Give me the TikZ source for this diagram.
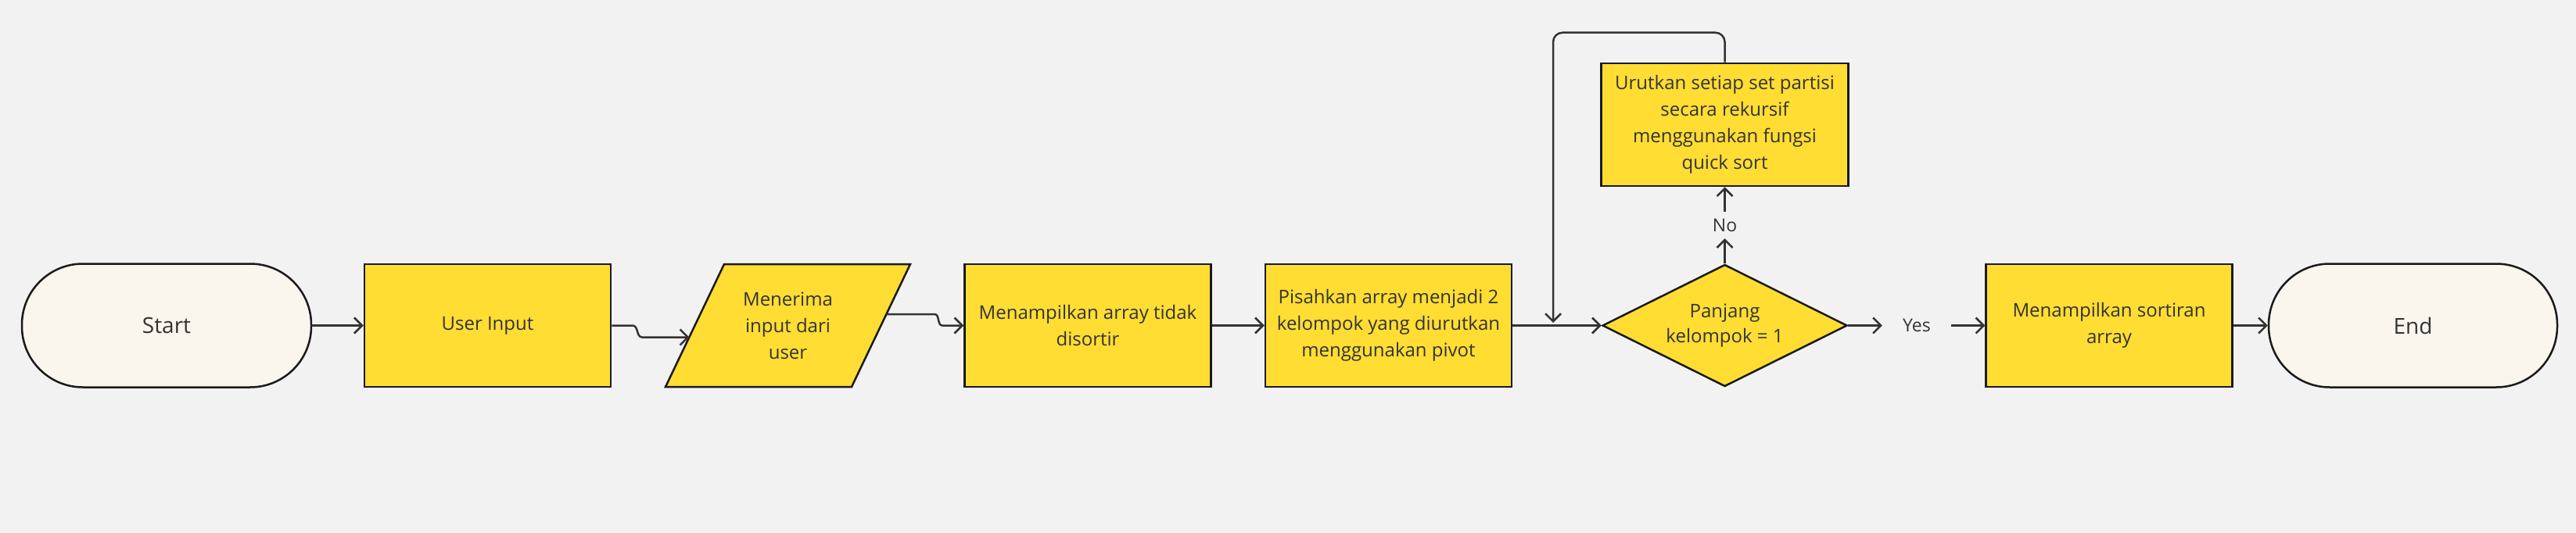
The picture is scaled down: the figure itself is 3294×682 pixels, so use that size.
\documentclass[tikz,border=0pt]{standalone}
\usepackage{fontspec}
\setmainfont{Open Sans}
\usetikzlibrary{arrows.meta,shapes.geometric,calc}
\definecolor{bg}{HTML}{F2F2F2}
\definecolor{yel}{HTML}{FFDD33}
\definecolor{cream}{HTML}{FAF6EE}
\definecolor{edgec}{HTML}{1A1A1A}
\definecolor{conn}{HTML}{333333}
\definecolor{txt}{HTML}{333333}
\begin{document}
\begin{tikzpicture}[x=1pt,y=1pt,
  box/.style={draw=edgec, line width=2.5pt, fill=yel, minimum width=315pt, minimum height=157pt, inner sep=0pt, align=center, text=txt, font=\fontsize{24}{34}\selectfont},
  term/.style={draw=edgec, line width=2.5pt, fill=cream, rounded corners=78pt, minimum width=370pt, minimum height=158pt, inner sep=0pt, text=txt, font=\fontsize{28}{34}\selectfont},
  dec/.style={diamond, shape aspect=2, draw=edgec, line width=2.5pt, fill=yel, minimum width=313pt, minimum height=156pt, inner sep=0pt, align=center, text=txt, font=\fontsize{24}{32}\selectfont},
  para/.style={draw=edgec, line width=2.5pt, fill=yel, line join=miter},
  ptext/.style={align=center, text=txt, inner sep=0pt, font=\fontsize{24}{34}\selectfont},
  arr/.style={draw=conn, line width=2.5pt, -{Straight Barb[length=10pt,width=20pt]}},
  lbl/.style={text=txt, inner sep=0pt, font=\fontsize{23}{28}\selectfont}
]
\fill[bg] (0,0) rectangle (3294,-682);
\useasboundingbox (0,0) rectangle (3294,-682);

% nodes
\node[term] (S) at (213,-416.5) {Start};
\node[box] (UI) at (623.5,-416.5) {User Input};
\path[para] (851,-495) -- (1089,-495) -- (1164,-338) -- (926,-338) -- cycle;
\node[ptext] (PA) at (1007.5,-416.5) {Menerima\\input dari\\user};
\coordinate (pain) at (881.3,-431.5);
\coordinate (paout) at (1133.4,-402);
\node[box] (M1) at (1391,-416.5) {Menampilkan array tidak\\disortir};
\node[box] (P) at (1775.5,-416.5) {Pisahkan array menjadi 2\\kelompok yang diurutkan\\menggunakan pivot};
\node[dec] (D) at (2205.5,-416.5) {Panjang\\kelompok = 1};
\node[box, minimum width=316pt] (U) at (2205.5,-159.5) {Urutkan setiap set partisi\\secara rekursif\\menggunakan fungsi\\quick sort};
\node[box] (M2) at (2697,-416.5) {Menampilkan sortiran\\array};
\node[term, minimum width=369pt] (E) at (3085.5,-416.5) {End};
\node[lbl, minimum height=34pt] (no) at (2205.5,-288) {No};
\node[lbl, minimum width=88pt] (yes) at (2451,-416.5) {Yes};
\coordinate (merge) at (1986,-413);

% connectors
\draw[arr] (S) -- (UI);
\draw[arr] (UI.east) -- (809,-416.5) to[out=0,in=180] (821,-431.5) -- (pain);
\draw[arr] (paout) -- (1195,-402) to[out=0,in=180] (1205,-416.5) -- (M1.west);
\draw[arr] (M1) -- (P);
\draw[arr] (P) -- (D);
\draw[arr, rounded corners=12pt] (U.north) -- ++(0,38) -| (merge);
\draw[arr] (D.north) -- (no.south);
\draw[arr] (no.north) -- (U.south);
\draw[arr] (D.east) -- (yes.west);
\draw[arr] (yes.east) -- (M2.west);
\draw[arr] (M2) -- (E);
\end{tikzpicture}
\end{document}
